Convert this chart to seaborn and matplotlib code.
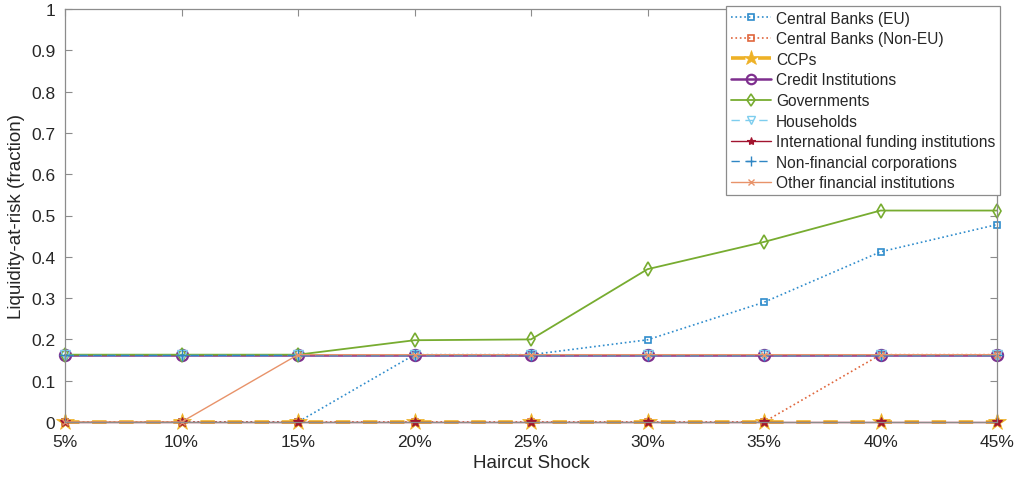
import matplotlib
matplotlib.use("Agg")
import matplotlib.pyplot as plt
import seaborn as sns
import pandas as pd

shocks = [5, 10, 15, 20, 25, 30, 35, 40, 45]
tick_labels = ["5%", "10%", "15%", "20%", "25%", "30%", "35%", "40%", "45%"]

cb_eu = [0, 0, 0, 0.163, 0.163, 0.199, 0.290, 0.412, 0.478]
cb_noneu = [0, 0, 0, 0, 0, 0, 0, 0.163, 0.163]
ccps = [0, 0, 0, 0, 0, 0, 0, 0, 0]
credit = [0.163, 0.163, 0.163, 0.163, 0.163, 0.163, 0.163, 0.163, 0.163]
governments = [0.163, 0.163, 0.163, 0.198, 0.200, 0.370, 0.436, 0.512, 0.512]
households = [0.163, 0.163, 0.163, 0.163, 0.163, 0.163, 0.163, 0.163, 0.163]
intl_funding = [0, 0, 0, 0, 0, 0, 0, 0, 0]
nonfin = [0.163, 0.163, 0.163, 0.163, 0.163, 0.163, 0.163, 0.163, 0.163]
other_fin = [0, 0, 0.163, 0.163, 0.163, 0.163, 0.163, 0.163, 0.163]

series = [
    ("Central Banks (EU)", cb_eu, dict(color="#2f8ccc", ls=":", marker="s", ms=5, lw=1.2, mfc="none", mew=1.2)),
    ("Central Banks (Non-EU)", cb_noneu, dict(color="#e0663c", ls=":", marker="s", ms=5, lw=1.2, mfc="none", mew=1.2)),
    ("CCPs", ccps, dict(color="#eeb126", ls=(0, (4, 3.5)), marker="*", ms=13, lw=2.6, mfc="#eeb126", mew=0.5)),
    ("Credit Institutions", credit, dict(color="#7e2f8e", ls="-", marker="o", ms=8, lw=1.8, mfc="none", mew=1.6)),
    ("Governments", governments, dict(color="#77ac30", ls="-", marker="d", ms=7.5, lw=1.3, mfc="none", mew=1.2)),
    ("Households", households, dict(color="#7dcdee", ls=(0, (6, 4)), marker="v", ms=7, lw=1.0, mfc="none", mew=1.0)),
    ("International funding institutions", intl_funding, dict(color="#a2142f", ls="-", marker="*", ms=7, lw=1.0, mfc="#a2142f", mew=0.8)),
    ("Non-financial corporations", nonfin, dict(color="#2f86c4", ls=(0, (6, 4)), marker="+", ms=8, lw=1.0, mfc="none", mew=1.0)),
    ("Other financial institutions", other_fin, dict(color="#e8936a", ls="-", marker="x", ms=5, lw=1.0, mfc="none", mew=1.0)),
]

sns.set_style("white")
plt.rcParams["font.family"] = ["Liberation Sans", "DejaVu Sans"]

fig = plt.figure(figsize=(10.21, 4.81), dpi=100)
ax = fig.add_axes([65 / 1021, 1 - 423 / 481, (997 - 65) / 1021, (423 - 10) / 481])

handles = []
for name, vals, kw in series:
    df = pd.DataFrame({"shock": shocks, "value": vals})
    sns.lineplot(data=df, x="shock", y="value", ax=ax, legend=False)
    line = ax.lines[-1]
    line.set_color(kw["color"])
    line.set_linestyle(kw["ls"])
    line.set_linewidth(kw["lw"])
    line.set_marker(kw["marker"])
    line.set_markersize(kw["ms"])
    line.set_markeredgecolor(kw["color"])
    line.set_markerfacecolor(kw["mfc"])
    line.set_markeredgewidth(kw["mew"])
    line.set_label(name)
    line.set_clip_on(False)
    handles.append(line)

ax.set_xlim(5, 45)
ax.set_ylim(0, 1)
ax.set_xticks(shocks)
ax.set_xticklabels(tick_labels)
ax.set_yticks([i / 10 for i in range(11)])
ax.set_yticklabels(["0"] + [f"0.{i}" for i in range(1, 10)] + ["1"])
ax.set_xlabel("Haircut Shock", fontsize=13.5, color="#262626", labelpad=3)
ax.set_ylabel("Liquidity-at-risk (fraction)", fontsize=13.5, color="#262626", labelpad=4)

for s in ax.spines.values():
    s.set_visible(True)
    s.set_color("#8c8c8c")
    s.set_linewidth(0.9)
ax.tick_params(direction="in", length=5, width=0.8, color="#8c8c8c", labelsize=12.5,
               labelcolor="#262626", top=True, right=True, bottom=True, left=True)
ax.tick_params(axis="x", pad=9)
ax.tick_params(axis="y", pad=7)
ax.grid(False)

leg = fig.legend(handles=handles, loc="upper right", bbox_to_anchor=(1000 / 1021, 1 - 7 / 481),
                 fontsize=11.2, frameon=True, fancybox=False, borderpad=0.3, labelspacing=0.36,
                 handlelength=2.6, handletextpad=0.3, borderaxespad=0.0, framealpha=1,
                 markerscale=0.85)
leg.get_frame().set_edgecolor("#8c8c8c")
leg.get_frame().set_linewidth(0.9)
for t in leg.get_texts():
    t.set_color("#262626")

fig.savefig("out.png", dpi=100, facecolor="white")
